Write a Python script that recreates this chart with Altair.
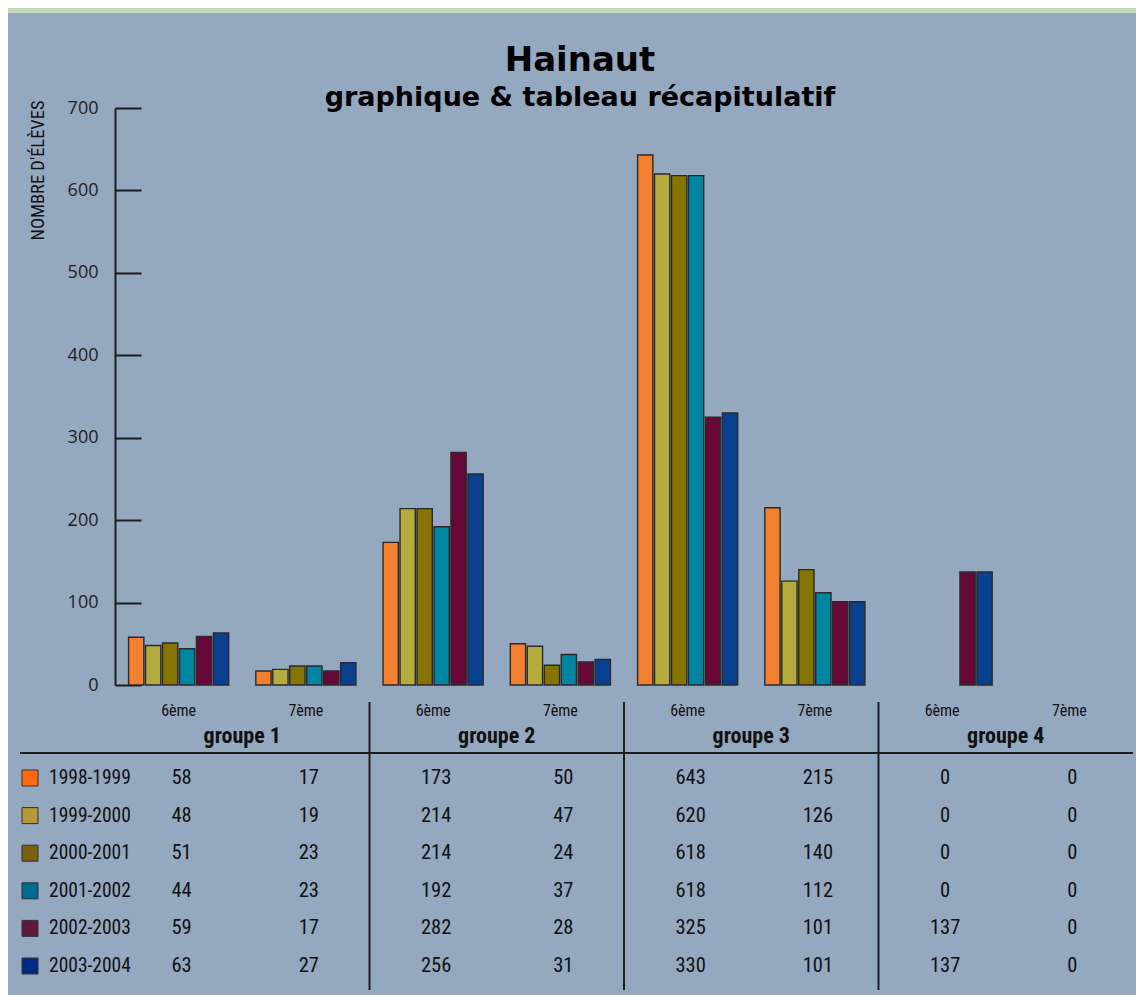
import altair as alt
import pandas as pd

# ---------------- data ----------------
series = ["1998-1999", "1999-2000", "2000-2001", "2001-2002", "2002-2003", "2003-2004"]
groups = ["groupe 1", "groupe 2", "groupe 3", "groupe 4"]
levels = ["6ème", "7ème"]

v_1998_1999 = [58, 17, 173, 50, 643, 215, 0, 0]
v_1999_2000 = [48, 19, 214, 47, 620, 126, 0, 0]
v_2000_2001 = [51, 23, 214, 24, 618, 140, 0, 0]
v_2001_2002 = [44, 23, 192, 37, 618, 112, 0, 0]
v_2002_2003 = [59, 17, 282, 28, 325, 101, 137, 0]
v_2003_2004 = [63, 27, 256, 31, 330, 101, 137, 0]

y_ticks = [0, 100, 200, 300, 400, 500, 600, 700]

bar_colors = ["#f28030", "#b5ac3e", "#857500", "#0085a0", "#680838", "#0a4090"]
swatch_colors = ["#ff6a10", "#b8963a", "#7a6010", "#006a90", "#5e1a38", "#002a88"]

title_text = "Hainaut"
subtitle_text = "graphique & tableau récapitulatif"
y_title = "NOMBRE D'ÉLÈVES"

# ---------------- tables ----------------
all_values = [v_1998_1999, v_1999_2000, v_2000_2001, v_2001_2002, v_2002_2003, v_2003_2004]
cats = [g + " " + l for g in groups for l in levels]
rows = []
for s, vals in zip(series, all_values):
    i = 0
    for g in groups:
        for l in levels:
            rows.append({"series": s, "group": g, "level": l, "cat": g + " " + l, "value": vals[i]})
            i += 1
df = pd.DataFrame(rows)
df_cat = pd.DataFrame([{"cat": g + " " + l, "group": g, "level": l} for g in groups for l in levels])
df_series = pd.DataFrame({"series": series})
one = pd.DataFrame({"k": [0]})

# ---------------- layout (view pixels) ----------------
W, H = 1128, 982
AX_X0, AX_X1 = 107, 1125
Y_ZERO, Y_TOP = 672, 95

NARROW = "Roboto Condensed, Liberation Sans Narrow, DejaVu Sans Condensed, Roboto"
INK = "#1e1e1e"

x_scale = alt.Scale(domain=cats, range=[AX_X0, AX_X1], paddingInner=0, paddingOuter=0)
y_scale = alt.Scale(domain=[0, 700], range=[Y_ZERO, Y_TOP], nice=False, zero=True)
row_scale = alt.Scale(type="point", domain=series, range=[765, 953], padding=0)


def xcat(**kw):
    return alt.X("cat:N", sort=cats, scale=x_scale, **kw)


bars = alt.Chart(df).transform_filter("datum.value > 0").mark_bar(
    stroke="#2a2a2a", strokeWidth=1.4
).encode(
    x=xcat(axis=alt.Axis(orient="top", offset=-Y_ZERO, labels=False, title=None,
                         bandPosition=1, tickExtra=True, tickSize=14, tickWidth=2,
                         tickColor=INK, domainColor=INK, domainWidth=2, grid=False)),
    xOffset=alt.XOffset("series:N", sort=series,
                        scale=alt.Scale(paddingInner=0.1, paddingOuter=0.8)),
    y=alt.Y("value:Q", scale=y_scale,
            axis=alt.Axis(orient="right", offset=-(W - AX_X0), labels=False, title=None,
                          values=y_ticks, tickSize=26, tickWidth=2, tickColor=INK,
                          domainColor=INK, domainWidth=2, grid=False)),
    color=alt.Color("series:N", sort=series,
                    scale=alt.Scale(domain=series, range=bar_colors), legend=None),
)

ylabels = alt.Chart(df).mark_bar(opacity=0).encode(
    y=alt.Y("value:Q", scale=y_scale,
            axis=alt.Axis(orient="left", offset=-AX_X0, values=y_ticks, tickSize=0,
                          domain=False, grid=False, labelPadding=17,
                          labelFont="Open Sans", labelFontSize=18, labelColor="#222",
                          title=y_title, titleFont=NARROW, titleFontSize=18.5,
                          titleFontWeight="normal", titleColor="#111",
                          titleAngle=270, titleAlign="right", titleBaseline="middle",
                          titleX=-78, titleY=87)),
)

values_txt = alt.Chart(df).mark_text(font=NARROW, fontSize=20.5, fontWeight="normal",
                                     color="#111", dx=3).encode(
    x=xcat(axis=None),
    y=alt.Y("series:N", sort=series, scale=row_scale, axis=None),
    text="value:Q",
)

swatches = alt.Chart(df_series).mark_square(size=256, stroke="#333", strokeWidth=1, opacity=1).encode(
    x=alt.value(22),
    y=alt.Y("series:N", sort=series, scale=row_scale, axis=None),
    fill=alt.Fill("series:N", sort=series, scale=alt.Scale(domain=series, range=swatch_colors), legend=None),
)

series_txt = alt.Chart(df_series).mark_text(font=NARROW, fontSize=19.5, fontWeight="normal",
                                            color="#111", align="left").encode(
    x=alt.value(41),
    y=alt.Y("series:N", sort=series, scale=row_scale, axis=None),
    text="series:N",
)

level_txt = alt.Chart(df_cat).mark_text(font=NARROW, fontSize=16, color="#111").encode(
    x=xcat(axis=None),
    y=alt.value(698),
    text="level:N",
)

group_txt = alt.Chart(df_cat).transform_filter("datum.level == '6ème'").mark_text(
    font=NARROW, fontSize=22, fontWeight="bold", color="#111").encode(
    x=xcat(axis=None, bandPosition=1),
    y=alt.value(723),
    text="group:N",
)

hrule = alt.Chart(one).mark_rule(color=INK, strokeWidth=2).encode(
    x=alt.value(12), x2=alt.value(AX_X1), y=alt.value(740)
)

vrules = alt.Chart(df_cat).transform_filter(
    "datum.level == '7ème' && datum.group != 'groupe 4'").mark_rule(color=INK, strokeWidth=2).encode(
    x=xcat(axis=None, bandPosition=1),
    y=alt.value(689), y2=alt.value(977),
)

title = alt.Chart(one).mark_text(font="DejaVu Sans", fontSize=34, fontWeight="bold",
                                 color="#000", baseline="alphabetic").encode(
    x=alt.value(572), y=alt.value(58), text=alt.value(title_text))

subtitle = alt.Chart(one).mark_text(font="DejaVu Sans", fontSize=27, fontWeight="bold",
                                    color="#000", baseline="alphabetic").encode(
    x=alt.value(572), y=alt.value(93), text=alt.value(subtitle_text))

chart = alt.layer(
    hrule, vrules, level_txt, group_txt, swatches, series_txt, values_txt,
    ylabels, bars, title, subtitle
).resolve_scale(y="independent").properties(
    width=W, height=H,
    autosize=alt.AutoSizeParams(type="none"),
    padding={"left": 0, "top": 5, "right": 0, "bottom": 0},
    background="#c5d8b8",
).configure_view(fill="#94a8c0", stroke=None)

chart.save("out.html", embed_options={"renderer": "svg", "actions": False})
